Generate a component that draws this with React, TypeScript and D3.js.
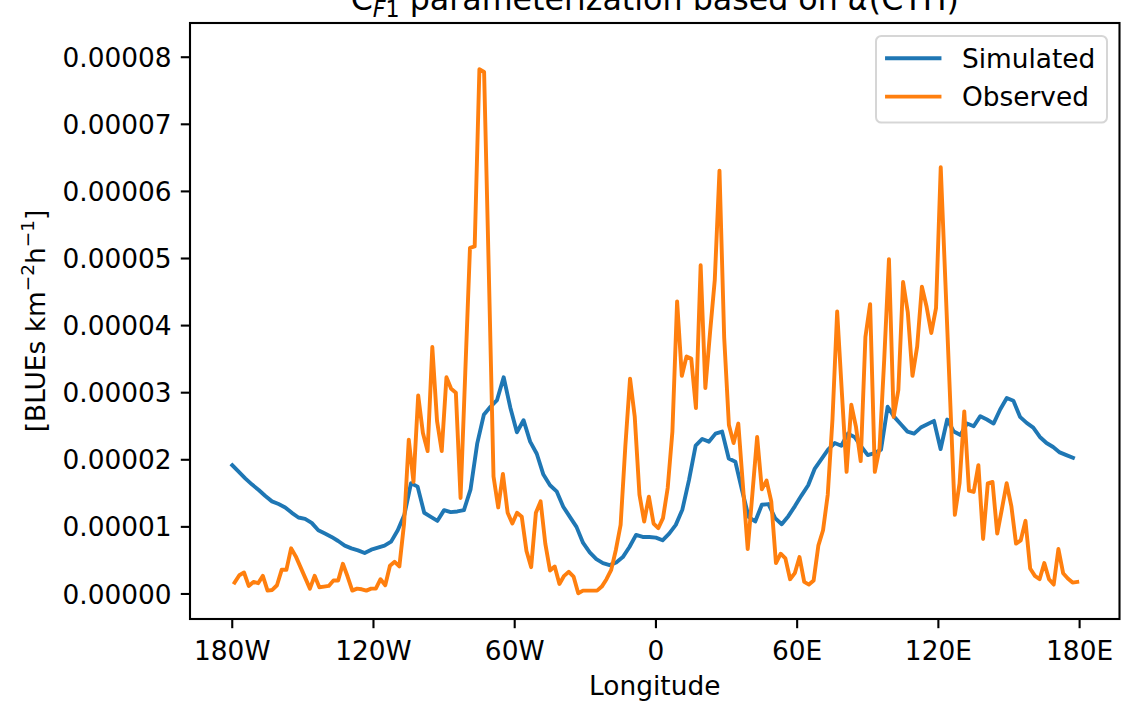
import React from 'react';
import * as d3 from 'd3';

// Longitude grids (degrees)
const SIM_START = -180;
const SIM_STEP = 2.8125;
const OBS_START = -179;
const OBS_STEP = 2;

// Values in units of 1e-5 BLUEs km^-2 h^-1
const simulated = [
  1.92, 1.82, 1.72, 1.63, 1.55, 1.46, 1.38, 1.34, 1.29, 1.21,
  1.14, 1.12, 1.06, 0.95, 0.90, 0.85, 0.79, 0.72, 0.68, 0.65,
  0.61, 0.66, 0.69, 0.72, 0.78, 0.95, 1.18, 1.65, 1.60, 1.21,
  1.15, 1.09, 1.25, 1.22, 1.23, 1.25, 1.56, 2.24, 2.67, 2.79,
  2.89, 3.23, 2.78, 2.41, 2.59, 2.27, 2.09, 1.78, 1.62, 1.53,
  1.30, 1.15, 1.00, 0.76, 0.62, 0.52, 0.46, 0.43, 0.47, 0.55,
  0.70, 0.88, 0.85, 0.85, 0.84, 0.80, 0.90, 1.03, 1.26, 1.70,
  2.21, 2.31, 2.27, 2.39, 2.42, 2.02, 1.97, 1.55, 1.15, 1.08,
  1.33, 1.34, 1.13, 1.04, 1.16, 1.31, 1.47, 1.62, 1.87, 2.01,
  2.15, 2.25, 2.21, 2.39, 2.34, 2.20, 2.07, 2.10, 2.15, 2.79,
  2.64, 2.53, 2.42, 2.39, 2.48, 2.53, 2.58, 2.16, 2.60, 2.42,
  2.37, 2.54, 2.50, 2.65, 2.60, 2.54, 2.75, 2.92, 2.88, 2.64,
  2.55, 2.48, 2.34, 2.25, 2.19, 2.11, 2.07, 2.03,
];

const observed = [
  0.17, 0.28, 0.32, 0.12, 0.18, 0.16, 0.27, 0.05, 0.06, 0.13,
  0.36, 0.36, 0.68, 0.56, 0.40, 0.24, 0.08, 0.27, 0.10, 0.11,
  0.12, 0.20, 0.20, 0.45, 0.26, 0.05, 0.08, 0.07, 0.05, 0.08,
  0.08, 0.22, 0.13, 0.42, 0.48, 0.41, 1.05, 2.30, 1.67, 2.96,
  2.40, 2.13, 3.68, 2.58, 2.13, 3.23, 3.06, 3.00, 1.43, 3.30,
  5.16, 5.18, 7.82, 7.78, 4.80, 1.75, 1.29, 1.79, 1.21, 1.05,
  1.21, 1.15, 0.64, 0.40, 1.21, 1.38, 0.75, 0.35, 0.41, 0.15,
  0.27, 0.33, 0.26, 0.01, 0.05, 0.05, 0.05, 0.05, 0.11, 0.22,
  0.36, 0.66, 1.03, 2.20, 3.21, 2.64, 1.48, 1.08, 1.45, 1.05,
  0.98, 1.13, 1.58, 2.42, 4.36, 3.25, 3.54, 3.51, 2.77, 4.90,
  3.07, 3.90, 4.68, 6.31, 3.82, 2.52, 2.25, 2.54, 1.60, 0.67,
  1.50, 2.34, 1.56, 1.69, 1.38, 0.46, 0.60, 0.53, 0.22, 0.31,
  0.55, 0.18, 0.14, 0.20, 0.72, 0.95, 1.48, 2.60, 4.21, 3.00,
  1.82, 2.82, 2.49, 1.98, 3.83, 4.32, 1.82, 2.17, 3.50, 4.99,
  2.64, 3.04, 4.65, 4.20, 3.25, 3.69, 4.58, 4.28, 3.89, 4.26,
  6.36, 4.63, 2.90, 1.18, 1.65, 2.72, 1.54, 1.52, 1.92, 0.82,
  1.65, 1.67, 0.90, 1.27, 1.65, 1.31, 0.75, 0.80, 1.09, 0.38,
  0.27, 0.22, 0.46, 0.22, 0.14, 0.67, 0.31, 0.23, 0.17, 0.18,
];

const xTicks = [-180, -120, -60, 0, 60, 120, 180];
const xTickLabels = ['180W', '120W', '60W', '0', '60E', '120E', '180E'];
const yTicks = [0, 1, 2, 3, 4, 5, 6, 7, 8];
const UNIT = 1e-5;
const Y_DOMAIN = [-0.373, 8.51];

const seriesNames = ['Simulated', 'Observed'];
const seriesColors = ['#1f77b4', '#ff7f0e'];

export default function App() {
  const W = 1121;
  const H = 702;
  const left = 190;
  const right = 1119.5;
  const top = 23;
  const bottom = 619;
  const FS = 26.4;
  const font = 'DejaVu Sans, sans-serif';

  const simLon = simulated.map((_, i) => SIM_START + i * SIM_STEP);
  const obsLon = observed.map((_, i) => OBS_START + i * OBS_STEP);
  const [lo, hi] = d3.extent([...simLon, ...obsLon]) as [number, number];
  const pad = (hi - lo) * 0.05;
  const x = d3.scaleLinear().domain([lo - pad, hi + pad]).range([left, right]);
  const y = d3.scaleLinear().domain(Y_DOMAIN).range([bottom, top]);

  const line = d3
    .line<[number, number]>()
    .x((d) => x(d[0]))
    .y((d) => y(d[1]));

  const simPath = line(simLon.map((l, i) => [l, simulated[i]]) as [number, number][]) || '';
  const obsPath = line(obsLon.map((l, i) => [l, observed[i]]) as [number, number][]) || '';

  const tickLen = 9.2;
  const tickW = 2.1;
  const lw = 3.9;

  // legend geometry
  const legX = 876;
  const legY = 36;
  const legW = 231;
  const legH = 86.6;
  const rowY = [58.3, 96.6];

  return (
    <svg
      width={W}
      height={H}
      style={{ position: 'absolute', left: 0, top: 0, background: '#fff' }}
      fontFamily={font}
    >
      <rect x={0} y={0} width={W} height={H} fill="#fff" />
      {/* lines */}
      <path d={simPath} fill="none" stroke={seriesColors[0]} strokeWidth={lw} strokeLinejoin="round" strokeLinecap="square" />
      <path d={obsPath} fill="none" stroke={seriesColors[1]} strokeWidth={lw} strokeLinejoin="round" strokeLinecap="square" />

      {/* spines */}
      <rect x={left} y={top} width={right - left} height={bottom - top} fill="none" stroke="#000" strokeWidth={tickW} />

      {/* x ticks */}
      {xTicks.map((t, i) => (
        <g key={'xt' + t}>
          <line x1={x(t)} x2={x(t)} y1={bottom} y2={bottom + tickLen} stroke="#000" strokeWidth={tickW} />
          <text x={x(t)} y={660} textAnchor="middle" fontSize={FS} fill="#000">
            {xTickLabels[i]}
          </text>
        </g>
      ))}

      {/* y ticks */}
      {yTicks.map((t) => (
        <g key={'yt' + t}>
          <line x1={left - tickLen} x2={left} y1={y(t)} y2={y(t)} stroke="#000" strokeWidth={tickW} />
          <text x={left - tickLen - 9.2} y={y(t) + 9.6} textAnchor="end" fontSize={FS} fill="#000">
            {(t * UNIT).toFixed(5)}
          </text>
        </g>
      ))}

      {/* axis labels */}
      <text x={(left + right) / 2} y={695} textAnchor="middle" fontSize={FS} fill="#000">
        Longitude
      </text>
      <text transform={`translate(45,${(top + bottom) / 2}) rotate(-90)`} textAnchor="middle" fontSize={FS} fill="#000">
        [BLUEs km
        <tspan dy={-11} fontSize={18.5}>−2</tspan>
        <tspan dy={11}>h</tspan>
        <tspan dy={-11} fontSize={18.5}>−1</tspan>
        <tspan dy={11}>]</tspan>
      </text>

      {/* title (clipped at top in reference) */}
      <text x={(left + right) / 2} y={9.5} textAnchor="middle" fontSize={31.7} fill="#000">
        C
        <tspan dy={7} fontSize={22.2} fontStyle="italic">F</tspan>
        <tspan fontSize={22.2}>1</tspan>
        <tspan dy={-7}> parameterization based on </tspan>
        <tspan fontStyle="italic">α</tspan>
        <tspan>(CTH)</tspan>
      </text>

      {/* legend */}
      <rect x={legX} y={legY} width={legW} height={legH} rx={5.3} ry={5.3} fill="#fff" fillOpacity={0.8} stroke="#cccccc" strokeOpacity={0.8} strokeWidth={2} />
      {seriesNames.map((name, i) => (
        <g key={name}>
          <line x1={887} x2={939.5} y1={rowY[i]} y2={rowY[i]} stroke={seriesColors[i]} strokeWidth={lw} strokeLinecap="square" />
          <text x={962} y={rowY[i] + 9.4} fontSize={FS} fill="#000">
            {name}
          </text>
        </g>
      ))}
    </svg>
  );
}
